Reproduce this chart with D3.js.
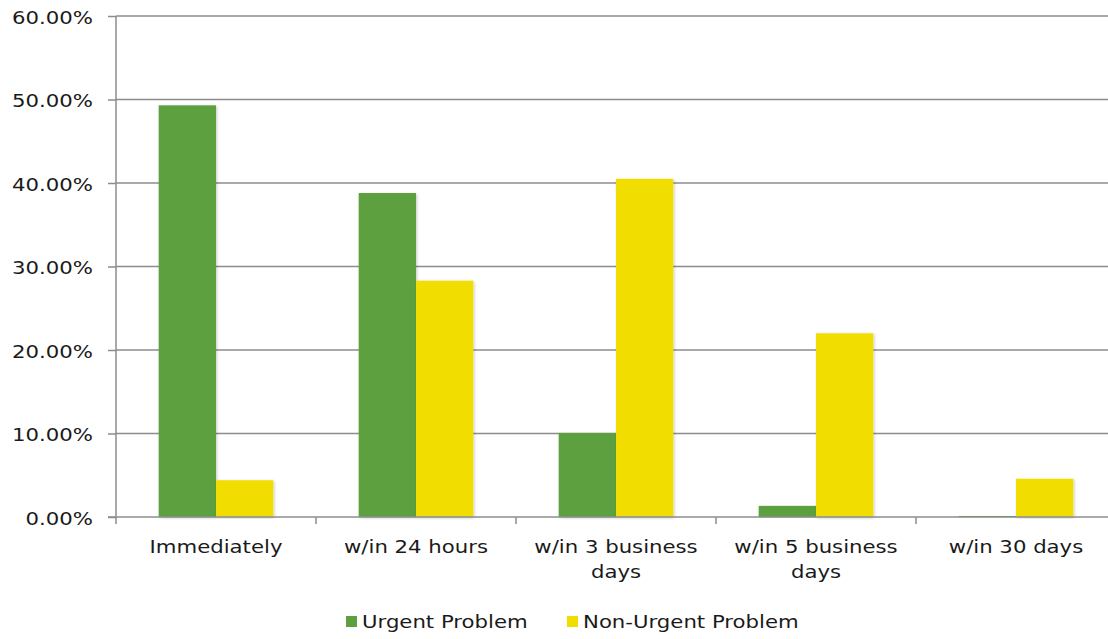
<!DOCTYPE html>
<html>
<head>
<meta charset="utf-8">
<script src="https://cdn.jsdelivr.net/npm/d3@7"></script>
<style>
  html, body { margin: 0; padding: 0; background: #fff; }
  svg { display: block; }
  text { font-family: "DejaVu Sans", Verdana, sans-serif; fill: #1a1a1a; }
</style>
</head>
<body>
<svg id="chart" width="1108" height="639"></svg>
<script>
// Response time shares by problem type
const categories = [
  ["Immediately"],
  ["w/in 24 hours"],
  ["w/in 3 business", "days"],
  ["w/in 5 business", "days"],
  ["w/in 30 days"]
];
const seriesNames = ["Urgent Problem", "Non-Urgent Problem"];
const urgent    = [0.493, 0.388, 0.1005, 0.0133, 0.0012];
const nonUrgent = [0.044, 0.283, 0.405, 0.220, 0.0458];
const yTicks = [0, 0.1, 0.2, 0.3, 0.4, 0.5, 0.6];
const colors = ["#5CA040", "#F2DD00"];

const svg = d3.select("#chart");
const plotLeft = 116, plotRight = 1116, plotTop = 16, plotBottom = 517;
const fontSize = 18, stretch = 1.18;

const catKeys = categories.map(d => d.join(" "));
const x0 = d3.scaleBand().domain(catKeys).range([plotLeft, plotRight]).padding(0);
const x1 = d3.scaleBand().domain(seriesNames).range([42.7, 157.3]).padding(0);
const y = d3.scaleLinear().domain([0, 0.6]).range([plotBottom, plotTop]);

// soft shadow under the bars
const defs = svg.append("defs");
const f = defs.append("filter").attr("id", "shadow")
  .attr("x", "-20%").attr("y", "-5%").attr("width", "140%").attr("height", "110%");
f.append("feDropShadow").attr("dx", 1).attr("dy", 1)
  .attr("stdDeviation", 1.6).attr("flood-color", "#000").attr("flood-opacity", 0.22);

// gridlines
svg.append("g").selectAll("line").data(yTicks.slice(1)).join("line")
  .attr("x1", plotLeft).attr("x2", 1108)
  .attr("y1", d => y(d)).attr("y2", d => y(d))
  .attr("stroke", "#8C8C8C").attr("stroke-width", 1.5);

// bars
const rows = catKeys.map((k, i) => ({ key: k, values: [urgent[i], nonUrgent[i]] }));
svg.append("g").selectAll("g").data(rows).join("g")
  .attr("transform", d => `translate(${x0(d.key)},0)`)
  .selectAll("rect").data(d => d.values.map((v, j) => ({ name: seriesNames[j], v, j })))
  .join("rect")
  .attr("x", d => x1(d.name))
  .attr("width", x1.bandwidth())
  .attr("y", d => y(d.v))
  .attr("height", d => plotBottom - y(d.v))
  .attr("fill", d => colors[d.j])
  .attr("filter", "url(#shadow)");

// y axis
const yAxis = d3.axisLeft(y).tickValues(yTicks)
  .tickFormat(d => (d * 100).toFixed(2) + "%")
  .tickSize(8).tickPadding(0);
const gy = svg.append("g").attr("transform", `translate(${plotLeft},0)`).call(yAxis);
gy.select(".domain").attr("stroke", "#8C8C8C").attr("stroke-width", 1.5)
  .attr("d", `M0,${plotTop}V${plotBottom + 7}`);
gy.selectAll(".tick line").attr("stroke", "#8C8C8C").attr("stroke-width", 1.5);
gy.selectAll(".tick text")
  .attr("x", null).attr("dy", null)
  .attr("font-size", fontSize).attr("font-family", null)
  .attr("text-anchor", "end")
  .attr("transform", `translate(-23,7) scale(${stretch},1)`);

// x axis
const xAxis = d3.axisBottom(x0).tickValues([]).tickSizeOuter(0);
const gx = svg.append("g").attr("transform", `translate(0,${plotBottom})`).call(xAxis);
gx.select(".domain").attr("stroke", "#8C8C8C").attr("stroke-width", 1.5)
  .attr("d", `M${plotLeft - 8},0H1108`);
// category boundaries
gx.selectAll("line.sep").data(catKeys.slice(1)).join("line").attr("class", "sep")
  .attr("x1", d => x0(d)).attr("x2", d => x0(d)).attr("y1", 0).attr("y2", 7)
  .attr("stroke", "#8C8C8C").attr("stroke-width", 1.5);
// category labels
const labels = gx.selectAll("g.lab").data(categories).join("g").attr("class", "lab")
  .attr("transform", (d, i) => `translate(${x0(catKeys[i]) + x0.bandwidth() / 2},0)`);
labels.selectAll("text").data(d => d).join("text")
  .attr("text-anchor", "middle").attr("font-size", fontSize)
  .attr("transform", (d, i) => `translate(0,${36 + i * 25}) scale(${stretch},1)`)
  .text(d => d);

// legend
const legendX = [346, 567];
const lg = svg.append("g").selectAll("g").data(seriesNames).join("g")
  .attr("transform", (d, i) => `translate(${legendX[i]},616)`);
lg.append("rect").attr("width", 11).attr("height", 11)
  .attr("fill", (d, i) => colors[i]);
lg.append("text").attr("font-size", fontSize)
  .attr("transform", `translate(16,12) scale(${stretch},1)`)
  .text(d => d);
</script>
</body>
</html>
